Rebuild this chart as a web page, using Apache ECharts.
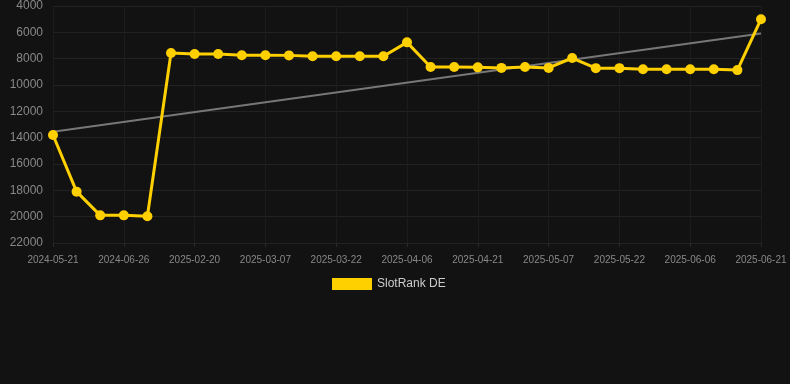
<!DOCTYPE html>
<html>
<head>
<meta charset="utf-8">
<script src="https://cdn.jsdelivr.net/npm/echarts@6/dist/echarts.min.js"></script>
<style>
html,body{margin:0;padding:0;background:#121212;}
#c{width:790px;height:384px;}
</style>
</head>
<body>
<div id="c"></div>
<script>
var categories = ["2024-05-21","2024-06-02","2024-06-14","2024-06-26","2024-07-08","2025-02-15","2025-02-20","2025-02-25","2025-03-02","2025-03-07","2025-03-12","2025-03-17","2025-03-22","2025-03-27","2025-04-01","2025-04-06","2025-04-11","2025-04-16","2025-04-21","2025-04-26","2025-05-02","2025-05-07","2025-05-12","2025-05-17","2025-05-22","2025-05-27","2025-06-01","2025-06-06","2025-06-11","2025-06-16","2025-06-21"];
var rankValues = [13800,18100,19900,19900,19970,7570,7650,7650,7740,7740,7750,7820,7820,7820,7820,6760,8630,8630,8660,8700,8630,8700,7950,8720,8720,8800,8800,8800,8800,8870,5000];
var trendValues = [13550,null,null,null,null,null,null,null,null,null,null,null,null,null,null,null,null,null,null,null,null,null,null,null,null,null,null,null,null,null,6080];
var yTicks = {min:4000, max:22000, interval:2000};
var seriesName = "SlotRank DE";

var chart = echarts.init(document.getElementById('c'));
chart.setOption({
  backgroundColor:'#121212',
  animation:false,
  grid:{left:53,right:29,top:6,bottom:141,containLabel:false},
  legend:{
    data:[seriesName],
    top:273,
    left:327,
    itemWidth:40,itemHeight:12,
    icon:'rect',
    textStyle:{color:'#ccc',fontSize:12,fontFamily:'Arial, Liberation Sans, sans-serif'}
  },
  xAxis:{
    type:'category',
    data:categories,
    boundaryGap:false,
    axisLine:{show:false},
    axisTick:{show:true,interval:2,length:4,lineStyle:{color:'#2a2a2a'}},
    axisLabel:{interval:2,color:'#888',fontSize:10,margin:12,fontFamily:'Arial, Liberation Sans, sans-serif'},
    splitLine:{show:true,interval:2,lineStyle:{color:'#1c1c1c',width:1}}
  },
  yAxis:{
    type:'value',
    inverse:true,
    min:yTicks.min,max:yTicks.max,interval:yTicks.interval,
    axisLine:{show:false},
    axisTick:{show:false},
    axisLabel:{color:'#888',fontSize:12,margin:10,fontFamily:'Arial, Liberation Sans, sans-serif',formatter:function(v){return String(v);}},
    splitLine:{lineStyle:{color:'#222',width:1}}
  },
  series:[
    {
      name:'trend',
      type:'line',
      data:trendValues,
      connectNulls:true,
      showSymbol:false,
      symbol:'none',
      lineStyle:{color:'#777',width:2},
      silent:true,
      z:1
    },
    {
      name:seriesName,
      type:'line',
      data:rankValues,
      symbol:'circle',
      symbolSize:10,
      showAllSymbol:true,
      itemStyle:{color:'#FFD000'},
      lineStyle:{color:'#FFD000',width:3},
      z:2
    }
  ]
});
</script>
</body>
</html>
